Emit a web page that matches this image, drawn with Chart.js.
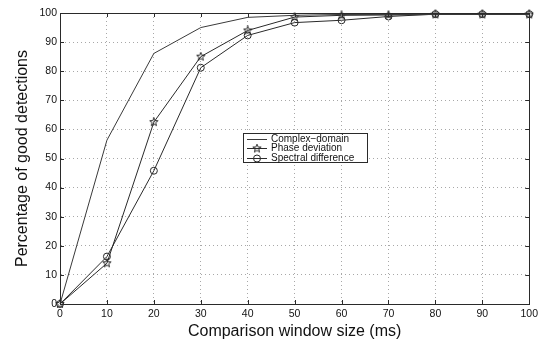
<!DOCTYPE html>
<html><head><meta charset="utf-8">
<style>html,body{margin:0;padding:0;background:#fff}#wrap{width:542px;height:341px}</style>
<script src="https://cdn.jsdelivr.net/npm/chart.js@4/dist/chart.umd.min.js"></script>
</head><body><div id="wrap"><canvas id="c" width="542" height="341"></canvas></div>
<script>
const windowSizes = [0,10,20,30,40,50,60,70,80,90,100];
const complexDomain = [0,56.3,86.1,95,98.5,99.2,99.5,99.5,99.5,99.5,99.5];
const phaseDeviation = [0,14,62.5,85,94,98.6,99.2,99.3,99.5,99.5,99.5];
const spectralDifference = [0,16.3,45.8,81.2,92.3,96.7,97.5,98.8,99.6,99.6,99.6];
const seriesNames = ['Complex\u2212domain','Phase deviation','Spectral difference'];
const tickValues = [0,10,20,30,40,50,60,70,80,90,100];
const xTitle = 'Comparison window size (ms)';
const yTitle = 'Percentage of good detections';

const FONT = 'Liberation Sans, Arial, Helvetica, sans-serif';
const INK = '#2a2a2a';

function pentagram(size, color){
  const cv = document.createElement('canvas');
  cv.width = size; cv.height = size;
  const g = cv.getContext('2d');
  const c = size/2, R = size/2 - 0.6, r = R*0.42;
  g.beginPath();
  for(let i=0;i<10;i++){
    const a = -Math.PI/2 + i*Math.PI/5;
    const rr = i%2===0 ? R : r;
    const px = c + rr*Math.cos(a), py = c + rr*Math.sin(a);
    if(i===0) g.moveTo(px,py); else g.lineTo(px,py);
  }
  g.closePath();
  g.strokeStyle = color; g.lineWidth = 1; g.stroke();
  return cv;
}
const starImg = pentagram(10, INK);

const toPts = arr => windowSizes.map((x,i)=>({x:x,y:arr[i]}));

const boxPlugin = {
  id:'boxPlugin',
  afterDraw(chart){
    const {ctx, chartArea:a, scales} = chart;
    ctx.save();
    ctx.setLineDash([]);
    ctx.strokeStyle = INK; ctx.lineWidth = 1;
    ctx.strokeRect(Math.round(a.left)+0.5, Math.round(a.top)+0.5, Math.round(a.right-a.left), Math.round(a.bottom-a.top));
    ctx.beginPath();
    tickValues.forEach(v=>{
      const x = Math.round(scales.x.getPixelForValue(v))+0.5;
      ctx.moveTo(x,a.bottom); ctx.lineTo(x,a.bottom-4);
      ctx.moveTo(x,a.top); ctx.lineTo(x,a.top+4);
      const y = Math.round(scales.y.getPixelForValue(v))+0.5;
      ctx.moveTo(a.left,y); ctx.lineTo(a.left+4,y);
      ctx.moveTo(a.right,y); ctx.lineTo(a.right-4,y);
    });
    ctx.stroke();
    // legend
    const lx = a.left + 183, ly = 133, lw = 124, lh = 29;
    ctx.fillStyle = '#fff';
    ctx.fillRect(lx, ly, lw, lh);
    ctx.strokeRect(lx+0.5, ly+0.5, lw, lh);
    ctx.font = '10px ' + FONT;
    ctx.textBaseline = 'middle';
    chart.data.datasets.forEach((ds,i)=>{
      const yy = ly + 5.5 + i*9.5;
      ctx.strokeStyle = ds.borderColor;
      ctx.beginPath(); ctx.moveTo(lx+4, Math.round(yy)+0.5); ctx.lineTo(lx+24, Math.round(yy)+0.5); ctx.stroke();
      if(ds.pointStyle === 'circle'){
        ctx.beginPath(); ctx.arc(lx+14, Math.round(yy)+0.5, 3.5, 0, Math.PI*2); ctx.stroke();
      } else if (ds.pointStyle instanceof HTMLCanvasElement){
        ctx.drawImage(ds.pointStyle, lx+14-5, Math.round(yy)+0.5-5);
      }
      ctx.fillStyle = '#111';
      ctx.fillText(ds.label, lx+28, yy+0.5);
    });
    ctx.restore();
  }
};

new Chart(document.getElementById('c'), {
  type:'line',
  data:{
    datasets:[
      {label:seriesNames[0], data:toPts(complexDomain), borderColor:'#3a3a3a', borderWidth:1, pointRadius:0, pointStyle:false, tension:0, clip:false},
      {label:seriesNames[1], data:toPts(phaseDeviation), borderColor:INK, borderWidth:1, pointStyle:starImg, pointRadius:5, tension:0, clip:false},
      {label:seriesNames[2], data:toPts(spectralDifference), borderColor:INK, borderWidth:1, pointStyle:'circle', pointRadius:3.5, pointBorderWidth:1, pointBackgroundColor:'rgba(0,0,0,0)', pointBorderColor:INK, tension:0, clip:false}
    ]
  },
  options:{
    responsive:false, animation:false,
    layout:{padding:{top:13, right:10, left:0, bottom:0}},
    plugins:{legend:{display:false}, tooltip:{enabled:false}},
    scales:{
      x:{type:'linear', min:0, max:100,
        afterBuildTicks: s => { s.ticks = tickValues.map(v=>({value:v})); },
        afterFit: s => { s.height = 37; },
        grid:{color:'#a8a8a8', lineWidth:1, drawTicks:false},
        border:{display:true, color:INK, dash:[1,3]},
        ticks:{padding:4, color:'#111', font:{family:FONT, size:10.5}, maxRotation:0},
        title:{display:true, text:xTitle, color:'#111', font:{family:FONT, size:16}, padding:{top:1, bottom:0}}
      },
      y:{type:'linear', min:0, max:100,
        afterBuildTicks: s => { s.ticks = tickValues.map(v=>({value:v})); },
        afterFit: s => { s.width = 60; },
        grid:{color:'#a8a8a8', lineWidth:1, drawTicks:false},
        border:{display:true, color:INK, dash:[1,3]},
        ticks:{padding:3, color:'#111', font:{family:FONT, size:10.5}},
        title:{display:true, text:yTitle, color:'#111', font:{family:FONT, size:16}, padding:{top:13, bottom:0}}
      }
    }
  },
  plugins:[boxPlugin]
});
</script></body></html>
